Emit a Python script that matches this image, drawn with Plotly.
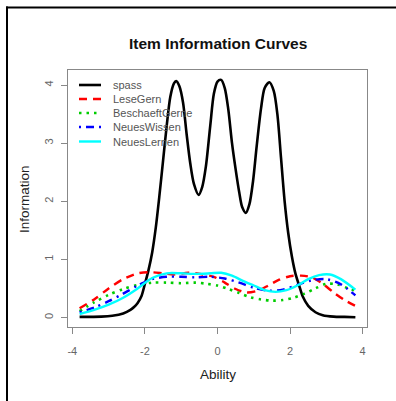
import plotly.graph_objects as go

# ---- data ----
series_names = ["spass", "LeseGern", "BeschaeftGerne", "NeuesWissen", "NeuesLernen"]

spass_x = [-3.8, -3.2, -2.9, -2.6, -2.4, -2.3, -2.2, -2.1, -2.0, -1.9, -1.8, -1.7, -1.6, -1.5, -1.4,
           -1.3, -1.2, -1.14, -1.05, -0.95, -0.85, -0.75, -0.65, -0.52, -0.42, -0.32, -0.2, -0.1,
           0.0, 0.1, 0.2, 0.3, 0.4, 0.5, 0.6, 0.68, 0.78, 0.88, 0.98, 1.08, 1.2, 1.3, 1.43, 1.55,
           1.65, 1.75, 1.85, 1.95, 2.05, 2.15, 2.25, 2.35, 2.5, 2.7, 2.9, 3.2, 3.5, 3.8]
spass_y = [0.01, 0.015, 0.03, 0.07, 0.13, 0.18, 0.25, 0.36, 0.58, 0.82, 1.12, 1.55, 2.1, 2.7, 3.3,
           3.8, 4.03, 4.07, 3.98, 3.7, 3.15, 2.65, 2.3, 2.11, 2.25, 2.6, 3.3, 3.85,
           4.06, 4.09, 3.95, 3.57, 3.0, 2.55, 2.15, 1.9, 1.8, 1.95, 2.35, 2.95, 3.6, 3.95, 4.05, 3.9,
           3.5, 2.75, 2.0, 1.45, 1.05, 0.75, 0.55, 0.36, 0.2, 0.09, 0.04, 0.015, 0.01, 0.005]

lese_x = [-3.8, -3.4, -3.0, -2.6, -2.2, -1.9, -1.5, -1.2, -0.8, -0.4, -0.1, 0.2, 0.5, 0.8, 1.1,
          1.4, 1.7, 2.0, 2.3, 2.6, 2.9, 3.2, 3.5, 3.8]
lese_y = [0.16, 0.31, 0.5, 0.66, 0.76, 0.78, 0.76, 0.74, 0.77, 0.74, 0.7, 0.6, 0.49, 0.43, 0.46,
          0.55, 0.65, 0.71, 0.72, 0.69, 0.58, 0.43, 0.3, 0.2]

besch_x = [-3.8, -3.4, -3.0, -2.6, -2.2, -1.8, -1.4, -1.0, -0.6, -0.3, 0.0, 0.3, 0.6, 0.9, 1.2,
           1.5, 1.8, 2.1, 2.4, 2.7, 3.0, 3.3, 3.6, 3.8]
besch_y = [0.11, 0.26, 0.39, 0.49, 0.56, 0.6, 0.6, 0.59, 0.6, 0.58, 0.55, 0.49, 0.42, 0.35, 0.31,
           0.29, 0.3, 0.34, 0.41, 0.5, 0.58, 0.57, 0.5, 0.46]

wissen_x = [-3.8, -3.4, -3.0, -2.6, -2.2, -1.8, -1.4, -1.0, -0.6, -0.2, 0.2, 0.6, 1.0, 1.4, 1.8,
            2.2, 2.6, 3.0, 3.4, 3.8]
wissen_y = [0.09, 0.17, 0.28, 0.41, 0.55, 0.66, 0.7, 0.7, 0.69, 0.7, 0.67, 0.6, 0.51, 0.46, 0.48,
            0.56, 0.64, 0.66, 0.57, 0.38]

lernen_x = [-3.8, -3.4, -3.0, -2.6, -2.2, -1.8, -1.4, -1.0, -0.6, -0.2, 0.1, 0.4, 0.7, 1.0, 1.3,
            1.6, 1.9, 2.2, 2.5, 2.8, 3.1, 3.4, 3.8]
lernen_y = [0.06, 0.13, 0.22, 0.34, 0.5, 0.68, 0.76, 0.76, 0.75, 0.76, 0.77, 0.72, 0.63, 0.55, 0.47,
            0.44, 0.47, 0.55, 0.66, 0.73, 0.74, 0.66, 0.48]

x_ticks = [-4, -2, 0, 2, 4]
y_ticks = [0, 1, 2, 3, 4]

# ---- styles ----
colors = ["#000000", "#FF0000", "#00CD00", "#0000FF", "#00FFFF"]
dashes = ["solid", "8px,6px", "2.5px,5px", "2px,5px,8px,5px", "solid"]
widths = [2.6, 2.4, 2.6, 2.4, 2.4]

xs = [spass_x, lese_x, besch_x, wissen_x, lernen_x]
ys = [spass_y, lese_y, besch_y, wissen_y, lernen_y]

fig = go.Figure()
for name, x, y, c, d, w in zip(series_names, xs, ys, colors, dashes, widths):
    fig.add_trace(go.Scatter(x=x, y=y, mode="lines", name=name,
                             line=dict(color=c, dash=d, width=w, shape="spline", smoothing=0.8),
                             showlegend=False, hoverinfo="skip"))

L, R, T, B = 68, 29, 70, 74
W, H = 396, 401
pw, ph = W - L - R, H - T - B

def px_x(p):
    return (p - L) / pw

def px_y(p):
    return (H - B - p) / ph

shapes = []
annotations = []

# manual legend
legend_rows = [85, 99, 113, 127, 141.5]
for name, c, d, w, ry in zip(series_names, colors, dashes, widths, legend_rows):
    shapes.append(dict(type="line", xref="paper", yref="paper",
                       x0=px_x(79), x1=px_x(101), y0=px_y(ry), y1=px_y(ry),
                       line=dict(color=c, dash=d, width=w)))
    annotations.append(dict(text=name, xref="paper", yref="paper", x=px_x(111), y=px_y(ry),
                            xanchor="left", yanchor="middle", showarrow=False,
                            font=dict(family="Liberation Sans, Arial", size=11, color="#555555")))

# outer frame (left and top edges)
shapes.append(dict(type="line", xref="paper", yref="paper",
                   x0=px_x(7), x1=px_x(7), y0=px_y(6.5), y1=px_y(410),
                   line=dict(color="black", width=2)))
shapes.append(dict(type="line", xref="paper", yref="paper",
                   x0=px_x(6), x1=px_x(410), y0=px_y(7.5), y1=px_y(7.5),
                   line=dict(color="black", width=2)))

# titles
annotations.append(dict(text="<b>Item Information Curves</b>", xref="paper", yref="paper",
                        x=px_x(217.5), y=px_y(44), xanchor="center", yanchor="middle",
                        showarrow=False, font=dict(family="Liberation Sans, Arial", size=15.5, color="#111111")))
annotations.append(dict(text="Ability", xref="paper", yref="paper",
                        x=px_x(217.5), y=px_y(374), xanchor="center", yanchor="middle",
                        showarrow=False, font=dict(family="Liberation Sans, Arial", size=13.5, color="#222222")))
annotations.append(dict(text="Information", xref="paper", yref="paper", textangle=-90,
                        x=px_x(24), y=px_y(199), xanchor="center", yanchor="middle",
                        showarrow=False, font=dict(family="Liberation Sans, Arial", size=13.5, color="#222222")))

fig.update_layout(
    width=W, height=H,
    margin=dict(l=L, r=R, t=T, b=B, pad=0),
    paper_bgcolor="white", plot_bgcolor="white",
    shapes=shapes, annotations=annotations,
    xaxis=dict(range=[-4.12, 4.12], tickvals=x_ticks, ticktext=[str(v) for v in x_ticks],
               ticks="outside", ticklen=6, tickcolor="#888888", tickwidth=1,
               showline=True, linecolor="#888888", linewidth=1, mirror=True,
               showgrid=False, zeroline=False, ticklabelstandoff=8,
               tickfont=dict(family="Liberation Sans, Arial", size=11, color="#666666")),
    yaxis=dict(range=[-0.164, 4.26], tickvals=y_ticks, ticktext=[str(v) for v in y_ticks],
               ticks="outside", ticklen=6, tickcolor="#888888", tickwidth=1, tickangle=-90,
               showline=True, linecolor="#888888", linewidth=1, mirror=True,
               showgrid=False, zeroline=False, ticklabelstandoff=4,
               tickfont=dict(family="Liberation Sans, Arial", size=11, color="#666666")),
)

fig.write_html("out.html", config={"displayModeBar": False},
               post_script="document.body.style.margin='0';document.body.style.padding='0';"
                           "document.documentElement.style.margin='0';document.body.style.overflow='hidden';")
